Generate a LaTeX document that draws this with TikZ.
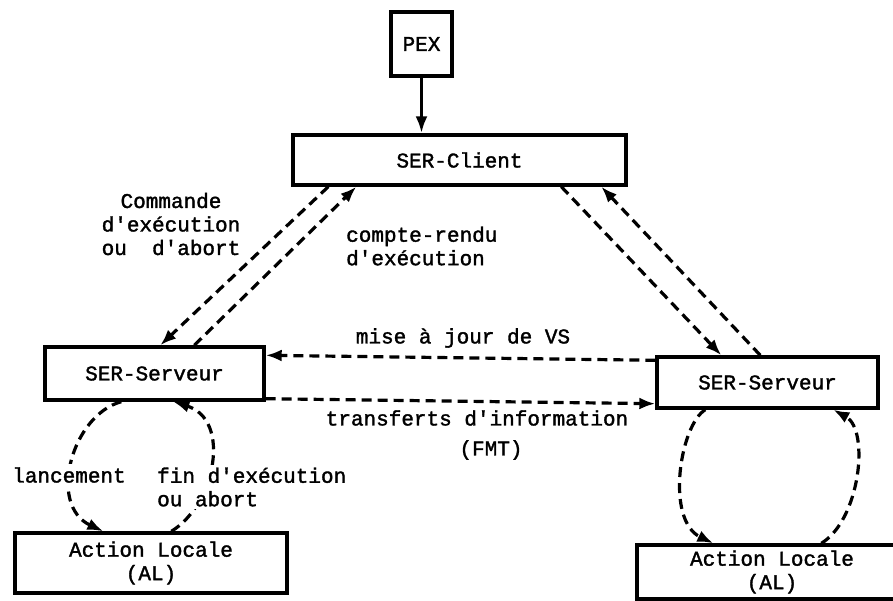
\documentclass[tikz,border=0pt]{standalone}
\usepackage{fontspec}
\setmonofont{Liberation Mono}[FakeBold=1.6]
\usetikzlibrary{arrows.meta}
\newcommand\diagfont{\ttfamily\fontsize{21}{23.5}\selectfont}
\begin{document}
\begin{tikzpicture}[x=1pt,y=-1pt,
  box/.style={draw,line width=3.4pt,inner sep=0pt,align=center,font=\diagfont},
  flow/.style={line width=3.2pt,dash pattern=on 10pt off 6pt,
    -{Latex[length=16pt,width=12pt]}},
  lbl/.style={font=\diagfont,inner sep=1pt},
  cover/.style={lbl,fill=white,inner sep=3pt}
]
\clip (0,0) rectangle (893,601);

% boxes
\node[box,minimum width=61pt,minimum height=64pt] (pex) at (421.5,44) {PEX};
\node[box,minimum width=333pt,minimum height=50pt] (cl) at (459.5,160) {SER-Client};
\node[box,minimum width=219pt,minimum height=53pt] (sl) at (154.5,373.5) {SER-Serveur};
\node[box,minimum width=221pt,minimum height=51pt] (sr) at (767.5,382.5) {SER-Serveur};
\node[box,minimum width=272pt,minimum height=60pt] (all) at (151,563) {Action Locale\\(AL)};
\node[box,minimum width=270pt,minimum height=54pt] (alr) at (772,572) {Action Locale\\(AL)};

% PEX to client
\draw[line width=3.8pt,-{Latex[length=17pt,width=12pt]}] (pex.south) -- (pex.south |- cl.north);

% client <-> left server
\draw[flow] ([xshift=37pt]cl.south west) -- ([xshift=117pt]sl.north west);
\draw[flow] ([xshift=151pt]sl.north west) -- ([xshift=65pt]cl.south west);
% client <-> right server
\draw[flow] ([xshift=270pt]cl.south west) -- ([xshift=66pt]sr.north west);
\draw[flow] ([xshift=105pt]sr.north west) -- ([xshift=310pt]cl.south west);

% server <-> server
\draw[flow] ([yshift=-5pt]sr.north west) -- ([yshift=-10pt]sl.north east);
\draw[flow] ([yshift=3pt]sl.south east) -- ([yshift=6pt]sr.south west);

% local loops
\draw[flow] ([xshift=78pt]sl.south west) .. controls (72,415) and (47,505) .. ([xshift=90pt]all.north west);
\draw[flow] ([xshift=158pt]all.north west) .. controls (215,505) and (232,420) .. ([xshift=130pt]sl.south west);
\draw[flow] ([xshift=50pt]sr.south west) .. controls (680,425) and (665,520) .. ([xshift=78pt]alr.north west);
\draw[flow] ([xshift=186pt]alr.north west) .. controls (860,520) and (870,430) .. ([xshift=178pt]sr.south west);

% labels
\node[lbl,align=center] (lcmd) at (171,224) {Commande\\d'exécution\\ou\ \ d'abort};
\node[lbl,align=left,anchor=west] (lcr) at (345,246) {compte-rendu\\d'exécution};
\node[lbl] (lmaj) at (463,338) {mise à jour de VS};
\node[lbl] (ltr) at (477,418) {transferts d'information};
\node[lbl] (lfmt) at (491,450) {(FMT)};
\node[cover] (llan) at (69,475) {lancement};
\node[cover,align=left,anchor=west] (lfin) at (154,487) {fin d'exécution\\ou abort};
\end{tikzpicture}
\end{document}
